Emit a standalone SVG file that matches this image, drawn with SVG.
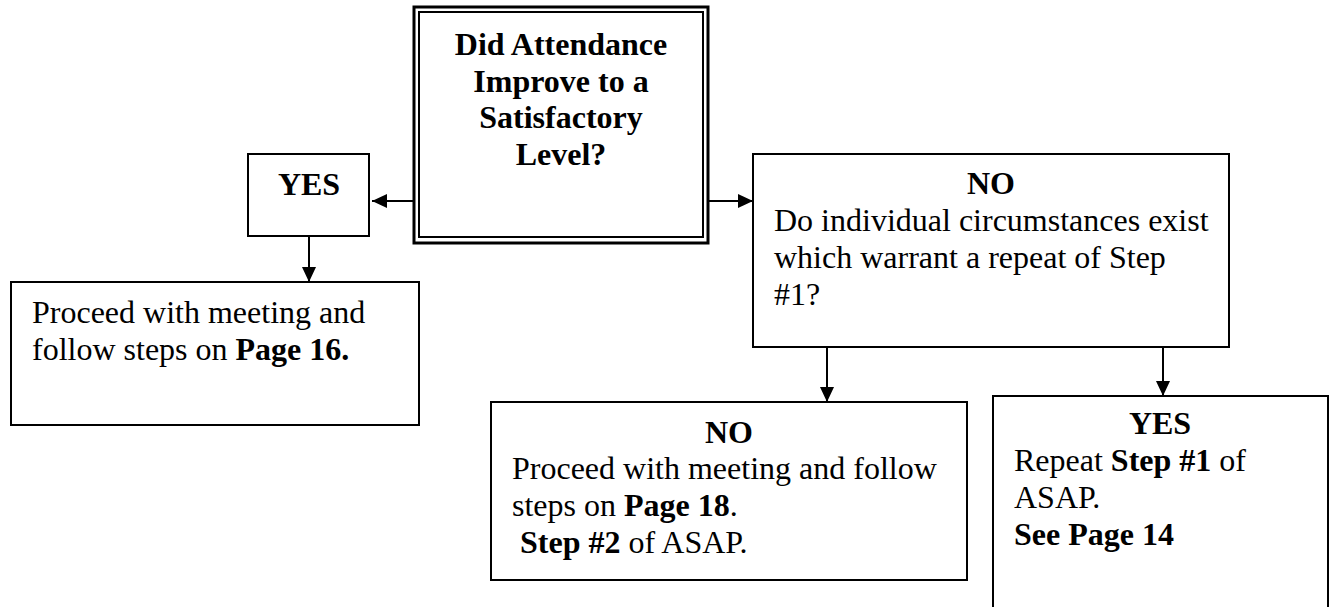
<svg xmlns="http://www.w3.org/2000/svg" width="1334" height="607" viewBox="0 0 1334 607">
  <style>
    .box { fill: #fff; stroke: #000; stroke-width: 2; }
    .txt { font-family: "Liberation Serif", "Times New Roman", serif; font-size: 32px; fill: #000; }
    .b { font-weight: bold; }
    .mid { text-anchor: middle; }
    .link { fill: none; stroke: #000; stroke-width: 2; marker-end: url(#arrow); }
  </style>
  <defs>
    <marker id="arrow" markerUnits="userSpaceOnUse" markerWidth="16" markerHeight="15" refX="15" refY="7" orient="auto">
      <path d="M0,0 L15,7 L0,14 z" fill="#000"/>
    </marker>
  </defs>
  <rect width="1334" height="607" fill="#fff"/>

  <!-- decision: double-bordered question -->
  <g id="question">
    <rect x="414" y="7" width="294" height="236" fill="#fff" stroke="#000" stroke-width="3"/>
    <rect x="419" y="12" width="284" height="225" fill="none" stroke="#000" stroke-width="2"/>
    <text class="txt b mid" x="561" y="55">Did Attendance</text>
    <text class="txt b mid" x="561" y="92">Improve to a</text>
    <text class="txt b mid" x="561" y="128">Satisfactory</text>
    <text class="txt b mid" x="561" y="165">Level?</text>
  </g>

  <g id="yes-top">
    <rect class="box" x="248" y="154" width="121" height="82"/>
    <text class="txt b mid" x="309" y="195">YES</text>
  </g>

  <g id="page16">
    <rect class="box" x="11" y="282" width="408" height="143"/>
    <text class="txt" x="32" y="323">Proceed with meeting and</text>
    <text class="txt" x="32" y="360">follow steps on <tspan class="b">Page 16.</tspan></text>
  </g>

  <g id="no-top">
    <rect class="box" x="753" y="154" width="476" height="193"/>
    <text class="txt b mid" x="991" y="194">NO</text>
    <text class="txt" x="774" y="231">Do individual circumstances exist</text>
    <text class="txt" x="774" y="268">which warrant a repeat of Step</text>
    <text class="txt" x="774" y="305">#1?</text>
  </g>

  <g id="no-bottom">
    <rect class="box" x="491" y="402" width="476" height="178"/>
    <text class="txt b mid" x="729" y="443">NO</text>
    <text class="txt" x="512" y="479">Proceed with meeting and follow</text>
    <text class="txt" x="512" y="516">steps on <tspan class="b">Page 18</tspan>.</text>
    <text class="txt" x="512" y="553" xml:space="preserve"> <tspan class="b">Step #2</tspan> of ASAP.</text>
  </g>

  <g id="yes-bottom">
    <path class="box" d="M993,608 V396 H1328 V608"/>
    <text class="txt b mid" x="1160" y="434">YES</text>
    <text class="txt" x="1014" y="471">Repeat <tspan class="b">Step #1</tspan> of</text>
    <text class="txt" x="1014" y="508">ASAP.</text>
    <text class="txt b" x="1014" y="545">See Page 14</text>
  </g>

  <g id="connectors">
    <line class="link" x1="414" y1="201" x2="372" y2="201"/>
    <line class="link" x1="708" y1="201" x2="753" y2="201"/>
    <line class="link" x1="309" y1="236" x2="309" y2="282"/>
    <line class="link" x1="827" y1="347" x2="827" y2="402"/>
    <line class="link" x1="1163" y1="347" x2="1163" y2="396"/>
  </g>
</svg>
